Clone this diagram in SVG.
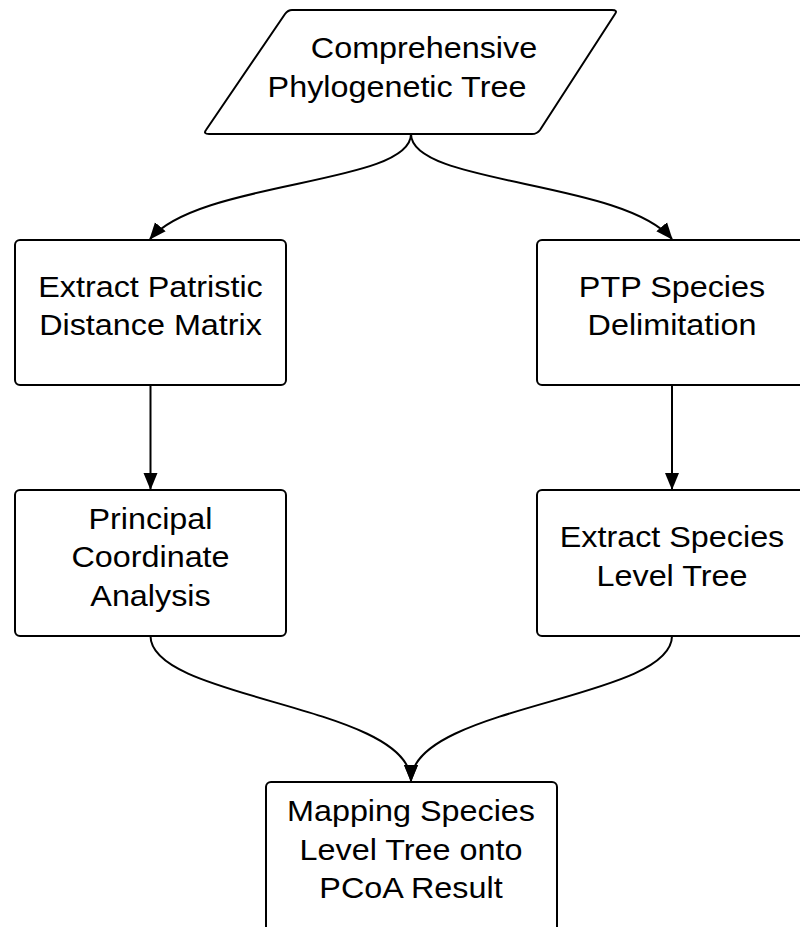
<svg xmlns="http://www.w3.org/2000/svg" width="800" height="927" viewBox="0 0 800 927">
  <style>
    .shape { fill: #ffffff; stroke: #000000; stroke-width: 2; stroke-linejoin: round; }
    .label { font-family: "Liberation Sans", Arial, sans-serif; font-size: 29px; fill: #000000; text-anchor: middle; }
    .link { fill: none; stroke: #000000; stroke-width: 2; }
  </style>
  <defs>
    <marker id="arrow" markerWidth="17" markerHeight="15" refX="16" refY="7.5" orient="auto" markerUnits="userSpaceOnUse">
      <path d="M0,0.5 L17,7.5 L0,14.5 Z" fill="#000000"/>
    </marker>
  </defs>
  <rect width="800" height="927" fill="#ffffff"/>

  <g id="connectors">
    <path class="link" d="M411,134 C411,185 200,180 150,239" marker-end="url(#arrow)"/>
    <path class="link" d="M411,134 C411,185 622,180 672,239" marker-end="url(#arrow)"/>
    <path class="link" d="M150.5,385 L150.5,489" marker-end="url(#arrow)"/>
    <path class="link" d="M672,385 L672,489" marker-end="url(#arrow)"/>
    <path class="link" d="M150.5,636 C150.5,700 411,705 411,781" marker-end="url(#arrow)"/>
    <path class="link" d="M672,636 C672,700 411,705 411,781" marker-end="url(#arrow)"/>
  </g>

  <g id="tree">
    <path class="shape" d="M292,10 L612,10 Q618,10 615,14 L540,130 Q537,134 532,134 L209,134 Q203,134 206,130 L285,14 Q288,10 292,10 Z"/>
    <g transform="translate(424,0) scale(1.115,1)"><text class="label" x="0" y="58">Comprehensive</text></g>
    <g transform="translate(397,0) scale(1.115,1)"><text class="label" x="0" y="97">Phylogenetic Tree</text></g>
  </g>

  <g id="distance">
    <rect class="shape" x="15" y="240" width="271" height="145" rx="5"/>
    <g transform="translate(150.5,0) scale(1.115,1)">
      <text class="label" x="0" y="297">Extract Patristic</text>
      <text class="label" x="0" y="335">Distance Matrix</text>
    </g>
  </g>

  <g id="ptp">
    <rect class="shape" x="537" y="240" width="271" height="145" rx="5"/>
    <g transform="translate(672,0) scale(1.115,1)">
      <text class="label" x="0" y="297">PTP Species</text>
      <text class="label" x="0" y="335">Delimitation</text>
    </g>
  </g>

  <g id="pcoa">
    <rect class="shape" x="15" y="490" width="271" height="146" rx="5"/>
    <g transform="translate(150.5,0) scale(1.115,1)">
      <text class="label" x="0" y="529">Principal</text>
      <text class="label" x="0" y="567">Coordinate</text>
      <text class="label" x="0" y="606">Analysis</text>
    </g>
  </g>

  <g id="species-tree">
    <rect class="shape" x="537" y="490" width="271" height="146" rx="5"/>
    <g transform="translate(672,0) scale(1.115,1)">
      <text class="label" x="0" y="547">Extract Species</text>
      <text class="label" x="0" y="586">Level Tree</text>
    </g>
  </g>

  <g id="mapping">
    <rect class="shape" x="266" y="782" width="291" height="150" rx="5"/>
    <g transform="translate(411,0) scale(1.115,1)">
      <text class="label" x="0" y="821">Mapping Species</text>
      <text class="label" x="0" y="860">Level Tree onto</text>
      <text class="label" x="0" y="898">PCoA Result</text>
    </g>
  </g>
</svg>
